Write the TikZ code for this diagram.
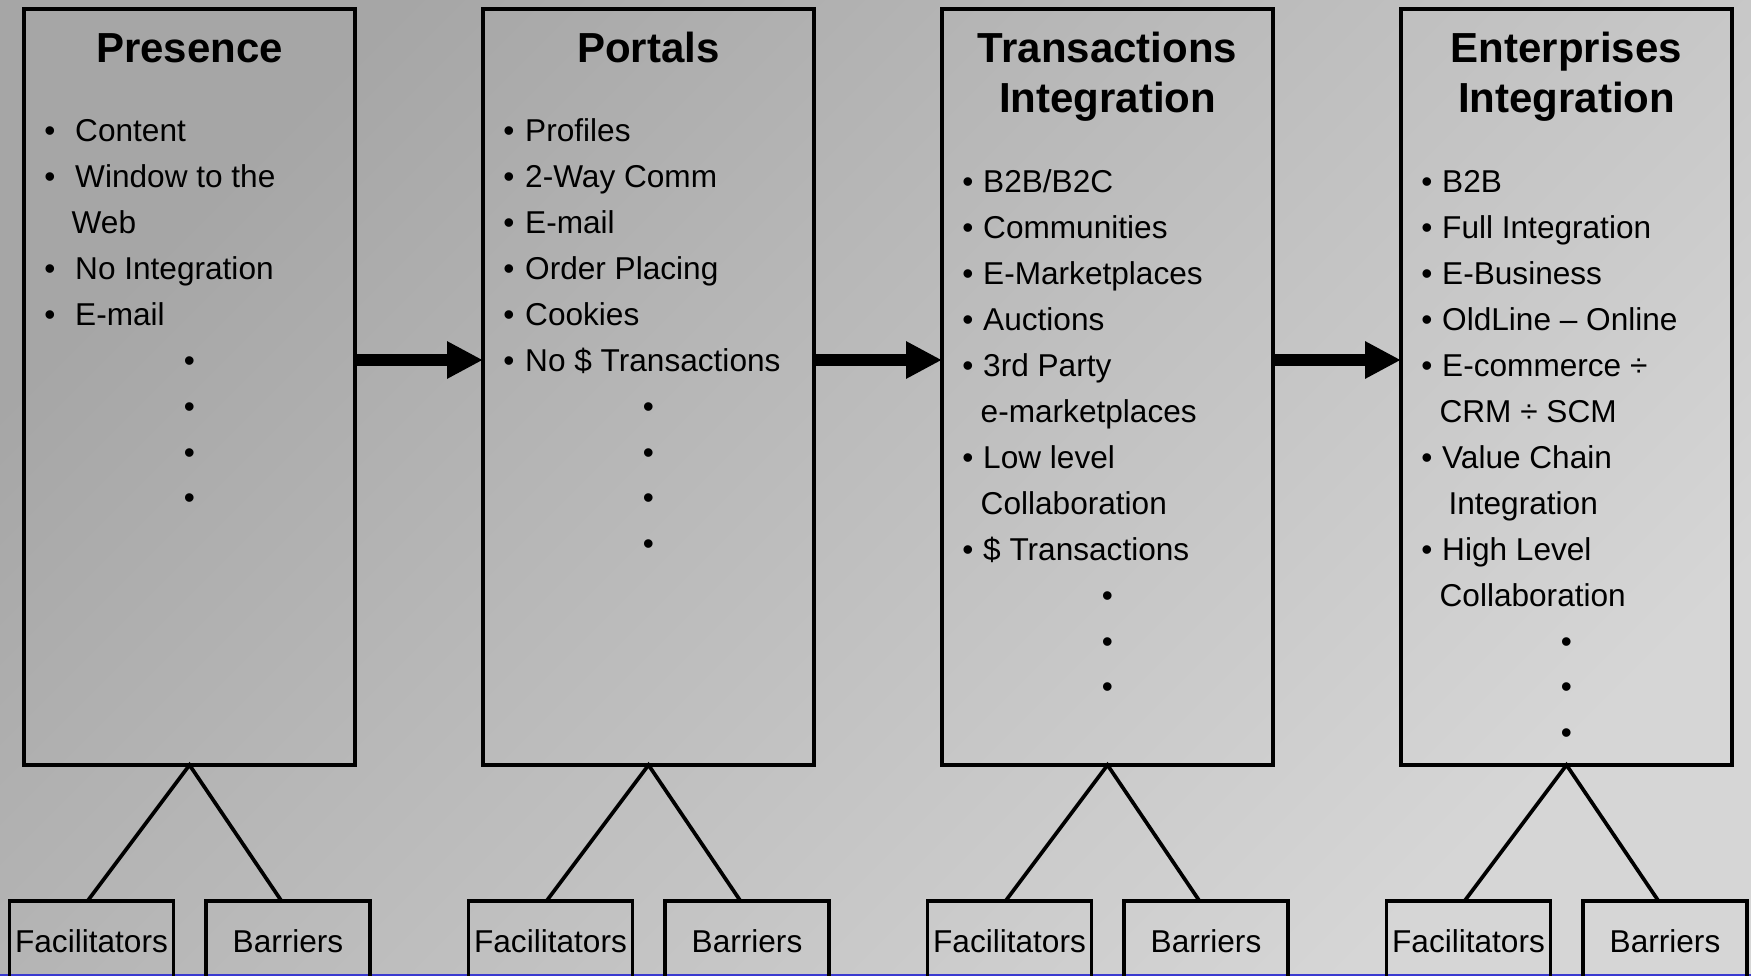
\documentclass[tikz,border=0pt]{standalone}
\usepackage{fontspec}
\setmainfont{Liberation Sans}
\usetikzlibrary{arrows.meta}
\definecolor{bgdark}{HTML}{A6A6A6}
\definecolor{bglight}{HTML}{D6D6D6}
\definecolor{bottomblue}{HTML}{3A3AD0}
\tikzset{
 stage/.style={draw=black, line width=3.7pt, minimum width=331pt, minimum height=756pt, inner sep=0pt, outer sep=0pt, anchor=north west},
 sub/.style={draw=black, line width=3.8pt, minimum width=164pt, minimum height=80pt, inner sep=0pt, outer sep=0pt, anchor=north,
   font=\fontsize{31.6}{46}\selectfont, text height=22.6pt, text depth=0pt},
 ttl/.style={font=\fontsize{42}{46}\selectfont\bfseries, inner sep=0pt, anchor=base},
 txt/.style={font=\fontsize{31.6}{46}\selectfont, inner sep=0pt, anchor=base west},
 bul/.style={font=\fontsize{31.6}{46}\selectfont, inner sep=0pt, anchor=base},
 flow/.style={line width=12.4pt, -{Triangle[length=36pt,width=35pt]}},
 link/.style={line width=3.7pt, line join=miter},
}
\begin{document}
\begin{tikzpicture}[x=1pt,y=-1pt]
\useasboundingbox (0,0) rectangle (1751,976);
\clip (0,0) rectangle (1751,976);
\shade[shading=axis, top color=bgdark, bottom color=bglight, shading angle=45] (0,0) rectangle (1751,976);
\draw[bottomblue, line width=2.2pt] (0,975) -- (1751,975);

% stage boxes
\node[stage] (s1) at (24,9) {};
\node[stage] (s2) at (483,9) {};
\node[stage] (s3) at (942,9) {};
\node[stage] (s4) at (1401,9) {};

% titles
\node[ttl] (t1) at (189.5,63) {Presence};
\node[ttl] (t2) at (648.5,63) {Portals};
\node[ttl] (t3a) at (1107.5,63) {Transactions};
\node[ttl] (t3b) at (1107.5,113) {Integration};
\node[ttl] (t4a) at (1566.5,63) {Enterprises};
\node[ttl] (t4b) at (1566.5,113) {Integration};

% box 1
\node[bul] (b1a) at (50,141.7) {\textbullet};
\node[txt] (x1a) at (75,141.7) {Content};
\node[bul] (b1b) at (50,187.6) {\textbullet};
\node[txt] (x1b) at (75,187.6) {Window to the};
\node[txt] (x1c) at (71.5,233.5) {Web};
\node[bul] (b1d) at (50,279.4) {\textbullet};
\node[txt] (x1d) at (75,279.4) {No Integration};
\node[bul] (b1e) at (50,325.3) {\textbullet};
\node[txt] (x1e) at (75,325.3) {E-mail};
\node[bul] (d1a) at (189.5,371.2) {\textbullet};
\node[bul] (d1b) at (189.5,417.1) {\textbullet};
\node[bul] (d1c) at (189.5,463) {\textbullet};
\node[bul] (d1d) at (189.5,508.9) {\textbullet};

% box 2
\node[bul] (b2a) at (509,141.7) {\textbullet};
\node[txt] (x2a) at (525,141.7) {Profiles};
\node[bul] (b2b) at (509,187.6) {\textbullet};
\node[txt] (x2b) at (525,187.6) {2-Way Comm};
\node[bul] (b2c) at (509,233.5) {\textbullet};
\node[txt] (x2c) at (525,233.5) {E-mail};
\node[bul] (b2d) at (509,279.4) {\textbullet};
\node[txt] (x2d) at (525,279.4) {Order Placing};
\node[bul] (b2e) at (509,325.3) {\textbullet};
\node[txt] (x2e) at (525,325.3) {Cookies};
\node[bul] (b2f) at (509,371.2) {\textbullet};
\node[txt] (x2f) at (525,371.2) {No \$ Transactions};
\node[bul] (d2a) at (648.5,417.1) {\textbullet};
\node[bul] (d2b) at (648.5,463) {\textbullet};
\node[bul] (d2c) at (648.5,508.9) {\textbullet};
\node[bul] (d2d) at (648.5,554.8) {\textbullet};

% box 3
\node[bul] (b3a) at (968,193) {\textbullet};
\node[txt] (x3a) at (983,193) {B2B/B2C};
\node[bul] (b3b) at (968,238.9) {\textbullet};
\node[txt] (x3b) at (983,238.9) {Communities};
\node[bul] (b3c) at (968,284.8) {\textbullet};
\node[txt] (x3c) at (983,284.8) {E-Marketplaces};
\node[bul] (b3d) at (968,330.7) {\textbullet};
\node[txt] (x3d) at (983,330.7) {Auctions};
\node[bul] (b3e) at (968,376.6) {\textbullet};
\node[txt] (x3e) at (983,376.6) {3rd Party};
\node[txt] (x3f) at (980.5,422.5) {e-marketplaces};
\node[bul] (b3g) at (968,468.4) {\textbullet};
\node[txt] (x3g) at (983,468.4) {Low level};
\node[txt] (x3h) at (980.5,514.3) {Collaboration};
\node[bul] (b3i) at (968,560.2) {\textbullet};
\node[txt] (x3i) at (983,560.2) {\$ Transactions};
\node[bul] (d3a) at (1107.5,606.1) {\textbullet};
\node[bul] (d3b) at (1107.5,652) {\textbullet};
\node[bul] (d3c) at (1107.5,697.9) {\textbullet};

% box 4
\node[bul] (b4a) at (1427,193) {\textbullet};
\node[txt] (x4a) at (1442,193) {B2B};
\node[bul] (b4b) at (1427,238.9) {\textbullet};
\node[txt] (x4b) at (1442,238.9) {Full Integration};
\node[bul] (b4c) at (1427,284.8) {\textbullet};
\node[txt] (x4c) at (1442,284.8) {E-Business};
\node[bul] (b4d) at (1427,330.7) {\textbullet};
\node[txt] (x4d) at (1442,330.7) {OldLine – Online};
\node[bul] (b4e) at (1427,376.6) {\textbullet};
\node[txt] (x4e) at (1442,376.6) {E-commerce ÷};
\node[txt] (x4f) at (1439.4,422.5) {CRM ÷ SCM};
\node[bul] (b4g) at (1427,468.4) {\textbullet};
\node[txt] (x4g) at (1442,468.4) {Value Chain};
\node[txt] (x4h) at (1448.3,514.3) {Integration};
\node[bul] (b4i) at (1427,560.2) {\textbullet};
\node[txt] (x4i) at (1442,560.2) {High Level};
\node[txt] (x4j) at (1439.4,606.1) {Collaboration};
\node[bul] (d4a) at (1566.5,652) {\textbullet};
\node[bul] (d4b) at (1566.5,697.9) {\textbullet};
\node[bul] (d4c) at (1566.5,743.8) {\textbullet};

% flow arrows
\draw[flow] ([yshift=27pt]s1.east) -- ([yshift=27pt]s2.west);
\draw[flow] ([yshift=27pt]s2.east) -- ([yshift=27pt]s3.west);
\draw[flow] ([yshift=27pt]s3.east) -- ([yshift=27pt]s4.west);

% facilitators / barriers
\node[sub] (f1) at (91.5,901) {Facilitators};
\node[sub] (r1) at (288,901) {Barriers};
\node[sub] (f2) at (550.5,901) {Facilitators};
\node[sub] (r2) at (747,901) {Barriers};
\node[sub] (f3) at (1009.5,901) {Facilitators};
\node[sub] (r3) at (1206,901) {Barriers};
\node[sub] (f4) at (1468.5,901) {Facilitators};
\node[sub] (r4) at (1665,901) {Barriers};

\draw[link] ([xshift=-4pt]f1.north) -- (s1.south) -- ([xshift=-6.5pt]r1.north);
\draw[link] ([xshift=-4pt]f2.north) -- (s2.south) -- ([xshift=-6.5pt]r2.north);
\draw[link] ([xshift=-4pt]f3.north) -- (s3.south) -- ([xshift=-6.5pt]r3.north);
\draw[link] ([xshift=-4pt]f4.north) -- (s4.south) -- ([xshift=-6.5pt]r4.north);
\end{tikzpicture}
\end{document}
